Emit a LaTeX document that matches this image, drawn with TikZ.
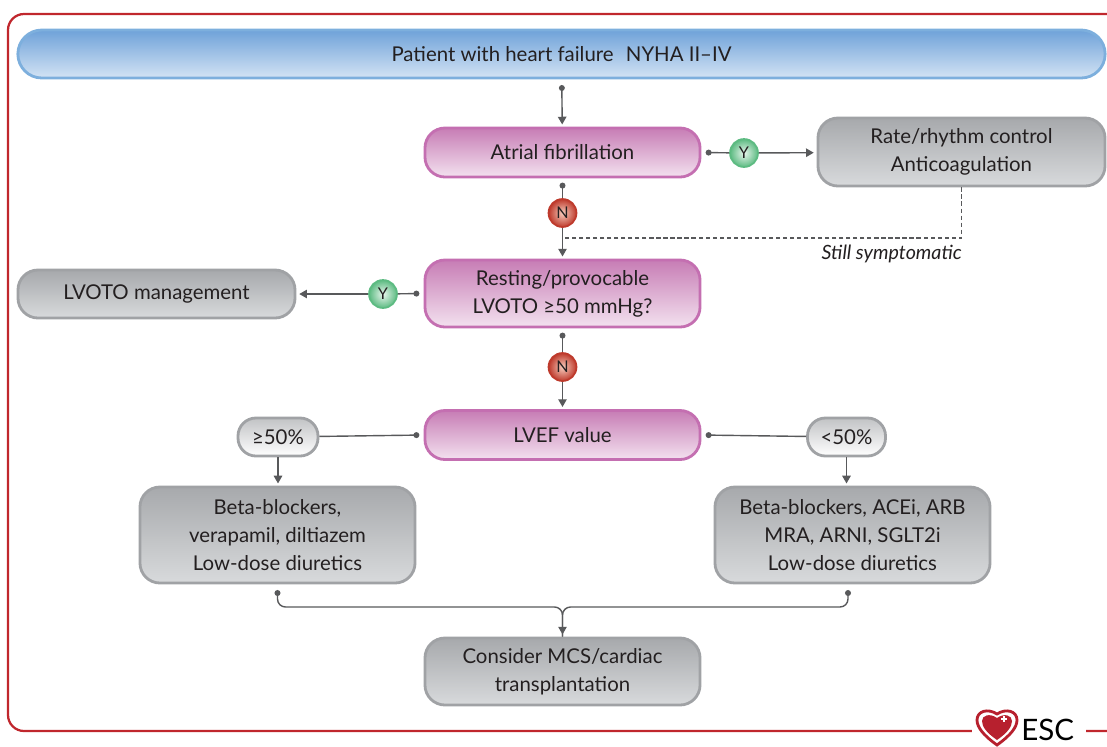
\documentclass[tikz,border=0pt]{standalone}
\usepackage{fontspec}
\setmainfont{Lato}
\usetikzlibrary{arrows.meta}
\definecolor{txt}{HTML}{231F20}
\definecolor{conncol}{HTML}{58595B}
\definecolor{framered}{HTML}{C0272D}
\definecolor{bluetop}{HTML}{6FA2D9}
\definecolor{bluebot}{HTML}{D3E3F4}
\definecolor{blueline}{HTML}{7DAFDD}
\definecolor{pinktop}{HTML}{C77DB5}
\definecolor{pinkbot}{HTML}{F3E1EF}
\definecolor{pinkline}{HTML}{C46FB1}
\definecolor{graytop}{HTML}{A7A9AC}
\definecolor{graybot}{HTML}{D8DADC}
\definecolor{grayline}{HTML}{A0A2A5}
\definecolor{yesout}{HTML}{5DBB82}
\definecolor{yesin}{HTML}{E8F6ED}
\definecolor{noout}{HTML}{BE3A2C}
\definecolor{noin}{HTML}{F6CDBE}
\definecolor{escred}{HTML}{B7202E}
\tikzset{
    box/.style={draw, line width=2pt, rounded corners=0.5cm, align=center,
        text=txt, font=\fontsize{14.5}{20}\selectfont, inner sep=0pt},
    bluebar/.style={box, draw=blueline, top color=bluetop, bottom color=bluebot,
        rounded corners=0.6cm, minimum width=27.175cm, minimum height=1.2cm},
    pinkbox/.style={box, draw=pinkline, top color=pinktop, bottom color=pinkbot,
        minimum width=6.875cm, minimum height=1.225cm},
    graybox/.style={box, draw=grayline, top color=graytop, bottom color=graybot},
    cutbox/.style={box, draw=grayline, top color=graytop!70, bottom color=white,
        minimum height=0.95cm, rounded corners=0.45cm},
    yes/.style={circle, draw=yesout, line width=1.2pt, inner color=yesin, outer color=yesout,
        minimum size=0.7cm, inner sep=0pt, text=txt, font=\fontsize{11.5}{11.5}\selectfont},
    no/.style={yes, draw=noout, inner color=noin, outer color=noout},
    conn/.style={draw=conncol, line width=1pt},
    arr/.style={conn, -{Triangle[width=6pt,length=5.5pt]}},
    dotarr/.style={conn, {Circle[length=4.2pt]}-{Triangle[width=6pt,length=5.5pt]}},
    dotline/.style={conn, {Circle[length=4.2pt]}-},
}
\begin{document}
\begin{tikzpicture}[x=0.025cm, y=-0.025cm]
    \useasboundingbox (0,0) rectangle (1107,746);
    % frame and logo
    \draw[framered, line width=1.6pt, rounded corners=0.4cm] (8,731) -- (8,14) -- (1140,14) -- (1140,731) -- cycle;
    \fill[white] (972,712) rectangle (1086,746);
    \draw[escred, line width=2pt] (997,745) .. controls (983,735) and (977,727) .. (977,720)
        .. controls (977,711) and (988,708) .. (997,714) .. controls (1006,708) and (1017,711) .. (1017,720)
        .. controls (1017,727) and (1011,735) .. (997,745) -- cycle;
    \fill[escred] (997,740) .. controls (987,733) and (982,727) .. (982,721)
        .. controls (982,715) and (990,713) .. (997,718) .. controls (1004,713) and (1012,715) .. (1012,721)
        .. controls (1012,727) and (1007,733) .. (997,740) -- cycle;
    \draw[white, line width=1pt] (1004,716) -- (1004,722) (1001,719) -- (1007,719);
    \node[anchor=west, inner sep=0pt, font=\fontsize{21}{21}\selectfont] (esc) at (1021,730) {ESC};

    % boxes
    \node[bluebar] (patient) at (561.5,54) {Patient with heart failure\hspace{0.6em}NYHA II–IV};
    \node[pinkbox] (af) at (562.5,152.5) {Atrial fibrillation};
    \node[graybox, minimum width=7.175cm, minimum height=1.7cm] (rate) at (961.5,152) {Rate/rhythm control\\Anticoagulation};
    \node[pinkbox, minimum height=1.675cm] (lvoto) at (562.5,293.5) {Resting/provocable\\LVOTO ≥50 mmHg?};
    \node[graybox, minimum width=6.925cm, minimum height=1.2cm] (mgmt) at (156.5,294) {LVOTO management};
    \node[pinkbox] (lvef) at (562.5,435) {LVEF value};
    \node[cutbox, minimum width=2.0cm] (high) at (278,437) {≥50\%};
    \node[cutbox, minimum width=1.95cm] (low) at (846.5,437) {<50\%};
    \node[graybox, minimum width=6.875cm, minimum height=2.4cm] (drugl) at (277.5,535) {Beta-blockers,\\verapamil, diltiazem\\Low-dose diuretics};
    \node[graybox, minimum width=6.875cm, minimum height=2.4cm] (drugr) at (852.5,535) {Beta-blockers, ACEi, ARB\\MRA, ARNI, SGLT2i\\Low-dose diuretics};
    \node[graybox, minimum width=6.875cm, minimum height=1.675cm] (mcs) at (562.5,671.5) {Consider MCS/cardiac\\transplantation};

    % decision marks
    \node[yes] (y1) at (744,153) {Y};
    \node[no] (n1) at (562.5,213) {N};
    \node[yes] (y2) at (383,294) {Y};
    \node[no] (n2) at (562.5,367) {N};
    \coordinate (join) at (565,238);
    \coordinate (merge) at (562.5,607);

    % connectors
    \draw[dotarr, shorten <=4pt, shorten >=1.5pt] (patient) -- (af);
    \draw[dotline, shorten <=3pt] (af.east) -- (y1);
    \draw[arr, shorten >=2pt] (y1) -- (rate);
    \draw[dotline, shorten <=3pt] (af.south) -- (n1);
    \draw[arr, shorten >=1.5pt] (n1) -- (lvoto);
    \draw[draw=conncol, line width=0.8pt, dash pattern=on 3pt off 2pt] (rate.south) |- (join);
    \node[anchor=north east, inner sep=0pt, text=txt, font=\itshape\fontsize{14}{14}\selectfont] (still) at (962,245) {Still symptomatic};
    \draw[dotline, shorten <=3pt] (lvoto.west) -- (y2);
    \draw[arr, shorten >=2pt] (y2) -- (mgmt);
    \draw[dotline, shorten <=3pt] (lvoto.south) -- (n2);
    \draw[arr, shorten >=1.5pt] (n2) -- (lvef);
    \draw[dotline, shorten <=3pt] (lvef.west) -- (high);
    \draw[dotline, shorten <=3pt] (lvef.east) -- (low);
    \draw[arr, shorten >=1.5pt] (high) -- (high |- drugl.north);
    \draw[arr, shorten >=1.5pt] (low) -- (low |- drugr.north);
    \draw[dotline, shorten <=4pt, rounded corners=0.2cm] (drugl.south) |- (merge) -- (merge |- mcs.north);
    \draw[dotline, shorten <=4pt, rounded corners=0.2cm] ([xshift=-3.2pt]drugr.south) |- (merge) -- (merge |- mcs.north);
    \draw[arr, shorten >=1.5pt] ([yshift=-8pt]merge) -- (mcs);
\end{tikzpicture}
\end{document}
